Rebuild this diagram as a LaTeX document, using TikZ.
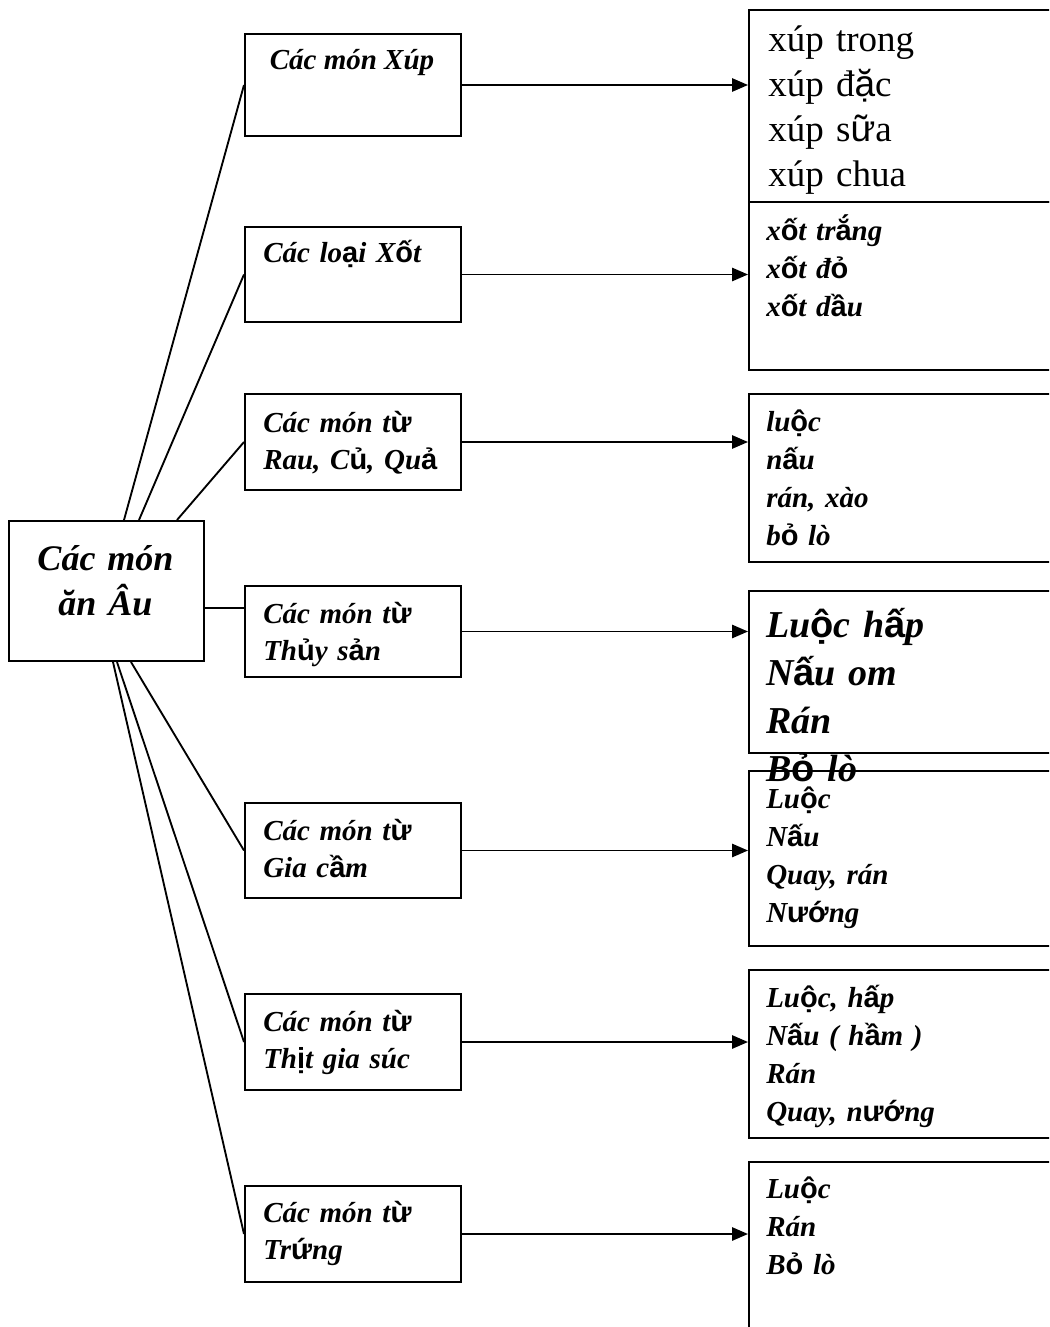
\documentclass[tikz,border=0pt]{standalone}
\usepackage{fontspec}
\setmainfont{Liberation Serif}
\newfontfamily\vnfont{Liberation Sans}
% Vietnamese letters set in a sans fallback face
\newcommand\vn[1]{{\vnfont\upshape#1}}
\usetikzlibrary{arrows.meta,calc}
\begin{document}
\begin{tikzpicture}[x=0.75pt,y=-0.75pt,
  frame/.style={draw,line width=1.5pt,anchor=north west,inner sep=0pt},
  midbox/.style={frame,minimum width=162pt},
  listbox/.style={frame,minimum width=255pt},
  label/.style={inner sep=0pt,anchor=base west,text width=240pt,align=left},
  midfont/.style={font=\fontsize{21.75}{27.75}\selectfont\bfseries\itshape},
  listfont/.style={font=\fontsize{21.75}{28.5}\selectfont\bfseries\itshape},
  link/.style={line width=1.4pt},
  feed/.style={line width=1.4pt,-{Triangle[length=12pt,width=10pt]}}]
\useasboundingbox (0,0) rectangle (1049,1327);
\clip (0,0) rectangle (1049,1327);

% central box
\node[frame,minimum width=146.25pt,minimum height=105pt] (main) at (8,520) {};
\node[inner sep=0pt,anchor=base,text width=140pt,align=center,
      font=\fontsize{27}{33.75}\selectfont\bfseries\itshape] (maint) at (105.5,570)
  {Các món\\ăn Âu};

% category boxes
\node[midbox,minimum height=76.5pt]  (b1) at (244,33)   {};
\node[midbox,minimum height=71.25pt] (b2) at (244,226)  {};
\node[midbox,minimum height=72pt]    (b3) at (244,393)  {};
\node[midbox,minimum height=68.25pt] (b4) at (244,585)  {};
\node[midbox,minimum height=71.25pt] (b5) at (244,802)  {};
\node[midbox,minimum height=72pt]    (b6) at (244,993)  {};
\node[midbox,minimum height=72pt]    (b7) at (244,1185) {};

\node[midfont,inner sep=0pt,anchor=base] (b1t) at (352,70) {Các món Xúp};
\node[label,midfont] (b2t) at (263,262)  {Các lo\vn{ạ}i X\vn{ố}t};
\node[label,midfont] (b3t) at (263,432)  {Các món t\vn{ừ}\\Rau, C\vn{ủ}, Qu\vn{ả}};
\node[label,midfont] (b4t) at (263,623)  {Các món t\vn{ừ}\\Th\vn{ủ}y s\vn{ả}n};
\node[label,midfont] (b5t) at (263,840)  {Các món t\vn{ừ}\\Gia c\vn{ầ}m};
\node[label,midfont] (b6t) at (263,1031) {Các món t\vn{ừ}\\Th\vn{ị}t gia súc};
\node[label,midfont] (b7t) at (263,1222) {Các món t\vn{ừ}\\Tr\vn{ứ}ng};

% dish lists
\node[listbox,minimum height=144pt]   (r1) at (748,9)    {};
\node[listbox,minimum height=126pt]   (r2) at (748,201)  {};
\node[listbox,minimum height=126pt]   (r3) at (748,393)  {};
\node[listbox,minimum height=121.5pt] (r4) at (748,590)  {};
\node[listbox,minimum height=131.25pt](r5) at (748,770)  {};
\node[listbox,minimum height=126pt]   (r6) at (748,969)  {};
\node[listbox,minimum height=180pt]   (r7) at (748,1161) {};

\node[label,font=\fontsize{27.75}{33.75}\selectfont] (r1t) at (768,52)
  {xúp trong\\xúp đ\vn{ặ}c\\xúp s\vn{ữ}a\\xúp chua};
\node[label,listfont] (r2t) at (766,240)
  {x\vn{ố}t tr\vn{ắ}ng\\x\vn{ố}t đ\vn{ỏ}\\x\vn{ố}t d\vn{ầ}u};
\node[label,listfont] (r3t) at (766,431)
  {lu\vn{ộ}c\\n\vn{ấ}u\\rán, xào\\b\vn{ỏ} lò};
\node[label,font=\fontsize{28.5}{36}\selectfont\bfseries\itshape] (r4t) at (766,637)
  {Lu\vn{ộ}c h\vn{ấ}p\\N\vn{ấ}u om\\Rán\\B\vn{ỏ} lò};
\node[label,listfont] (r5t) at (766,808)
  {Lu\vn{ộ}c\\N\vn{ấ}u\\Quay, rán\\N\vn{ướ}ng};
\node[label,listfont] (r6t) at (766,1007)
  {Lu\vn{ộ}c, h\vn{ấ}p\\N\vn{ấ}u ( h\vn{ầ}m )\\Rán\\Quay, n\vn{ướ}ng};
\node[label,listfont] (r7t) at (766,1198)
  {Lu\vn{ộ}c\\Rán\\B\vn{ỏ} lò};

% branches from the central box
\draw[link] ($(main.north west)+(116,0)$) -- (b1.west);
\draw[link] ($(main.north west)+(131,0)$) -- (b2.west);
\draw[link] ($(main.north west)+(169,0)$) -- (b3.west);
\coordinate (m4) at ($(main.north east)+(0,88)$);
\draw[link] (m4) -- (m4 -| b4.west);
\draw[link] ($(main.south west)+(123,0)$) -- (b5.west);
\draw[link] ($(main.south west)+(109,0)$) -- (b6.west);
\draw[link] ($(main.south west)+(105,0)$) -- (b7.west);

% arrows to the dish lists
\foreach \b/\r in {b1/r1,b2/r2,b3/r3,b4/r4,b5/r5,b6/r6,b7/r7}
  \draw[feed] (\b.east) -- (\b.east -| \r.west);
\end{tikzpicture}
\end{document}
